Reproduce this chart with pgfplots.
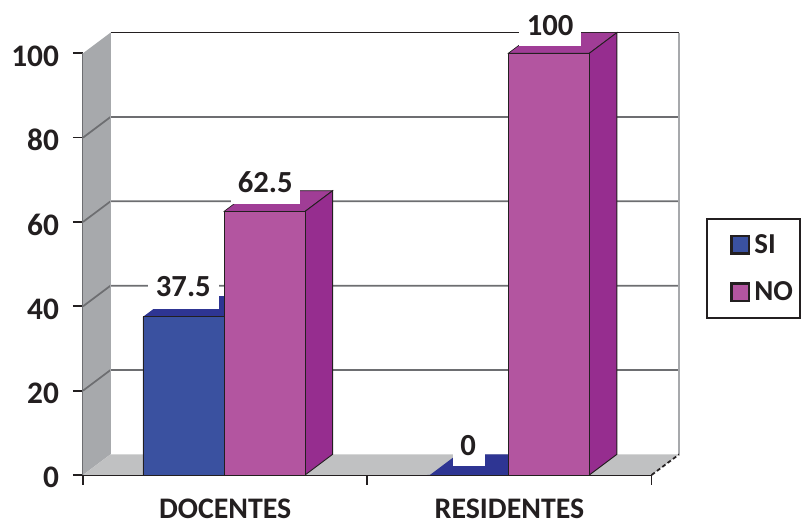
\documentclass[border=0pt]{standalone}
\usepackage{pgfplots}
\pgfplotsset{compat=1.18}
\usepackage{fontspec}
\setmainfont{Carlito}
\definecolor{ink}{HTML}{231F20}
\definecolor{wallgrey}{HTML}{A7A9AC}
\definecolor{floorgrey}{HTML}{C0C1C2}
\definecolor{gridgrey}{HTML}{6D6E71}
\definecolor{sifront}{HTML}{3A51A0}
\definecolor{sitop}{HTML}{2E3593}
\definecolor{nofront}{HTML}{B355A0}
\definecolor{notop}{HTML}{A03D96}
\definecolor{noside}{HTML}{962D8F}
\begin{document}
\begin{tikzpicture}
\path[use as bounding box] (0pt,0pt) rectangle (600.75pt,393pt);
% legend frame
\draw[ink,line width=1.1pt] (530.25pt,154.5pt) rectangle (600pt,228.75pt);
\begin{axis}[
  at={(62.25pt,36.75pt)}, anchor=south west,
  scale only axis, width=426.45pt, height=316.3pt,
  xmin=0, xmax=2, ymin=0, ymax=100,
  clip=false,
  axis x line*=bottom, axis y line*=left,
  x axis line style={ink,line width=1.5pt},
  y axis line style={gridgrey,line width=1.5pt},
  tick align=outside, major tick length=7.5pt,
  tick style={ink,line width=1.3pt},
  xtick={0,1,2}, xticklabels={},
  extra x ticks={0.5,1.5},
  extra x tick labels={DOCENTES,RESIDENTES},
  extra x tick style={tick style={draw=none},
    xticklabel style={inner sep=0pt,yshift=-10.5pt,font=\fontsize{22.4}{26}\selectfont\bfseries}},
  ytick={0,20,40,60,80,100},
  /pgf/number format/assume math mode=true,
  ticklabel style={font=\fontsize{23.5}{26}\selectfont\bfseries,color=ink},
  yticklabel style={xshift=-7pt,yshift=-2pt},
  legend style={at={(1.138,0.4897)}, anchor=west, draw=none, fill=none,
    font=\fontsize{21.7}{24}\selectfont\bfseries, text=ink,
    row sep=20pt, inner sep=0pt,
    nodes={inner sep=0pt, anchor=west},
    /tikz/column 1/.style={column sep=3pt}},
  legend cell align=left,
]
% walls and floor
\addplot[forget plot,fill=wallgrey,draw=none] coordinates {(0,0) (0.097,4.9) (0.097,104.9) (0,100)} --cycle;
\addplot[forget plot,fill=floorgrey,draw=none] coordinates {(0,0) (2,0) (2.097,4.9) (0.097,4.9)} --cycle;
% gridlines run up the side wall and across the back
\addplot[forget plot,gridgrey,line width=1.3pt] coordinates {(0,20) (0.097,24.9) (2.097,24.9)};
\addplot[forget plot,gridgrey,line width=1.3pt] coordinates {(0,40) (0.097,44.9) (2.097,44.9)};
\addplot[forget plot,gridgrey,line width=1.3pt] coordinates {(0,60) (0.097,64.9) (2.097,64.9)};
\addplot[forget plot,gridgrey,line width=1.3pt] coordinates {(0,80) (0.097,84.9) (2.097,84.9)};
\addplot[forget plot,ink,line width=1.3pt] coordinates {(0.097,104.9) (2.097,104.9)};
\addplot[forget plot,wallgrey,line width=1.2pt] coordinates {(0.097,4.9) (0.097,104.9)};
\addplot[forget plot,wallgrey,line width=1.5pt] coordinates {(2.097,4.9) (2.097,104.9)};
\addplot[forget plot,ink,line width=1.3pt,densely dashed] coordinates {(2,0) (2.097,4.9)};
% top faces of the SI bars
\addplot[forget plot,fill=sitop,draw=none] coordinates {(0.211,37.5) (0.496,37.5) (0.593,42.4) (0.308,42.4)} --cycle;
\addplot[forget plot,fill=sitop,draw=none] coordinates {(1.22,0) (1.496,0) (1.593,4.9) (1.317,4.9)} --cycle;
% top and side faces of the NO bars
\addplot[forget plot,fill=notop,draw=ink,line width=0.5pt] coordinates {(0.496,62.5) (0.781,62.5) (0.878,67.4) (0.593,67.4)} --cycle;
\addplot[forget plot,fill=noside,draw=ink,line width=0.7pt] coordinates {(0.781,0) (0.878,4.9) (0.878,67.4) (0.781,62.5)} --cycle;
\addplot[forget plot,fill=notop,draw=ink,line width=0.5pt] coordinates {(1.496,100) (1.781,100) (1.878,104.9) (1.593,104.9)} --cycle;
\addplot[forget plot,fill=noside,draw=ink,line width=0.7pt] coordinates {(1.781,0) (1.878,4.9) (1.878,104.9) (1.781,100)} --cycle;
% white patches behind the value labels
\fill[white] (axis cs:0.2286,39.36) rectangle (axis cs:0.4784,49.1);
\fill[white] (axis cs:0.5206,64.26) rectangle (axis cs:0.7633,73.5);
\fill[white] (axis cs:1.5336,101.7) rectangle (axis cs:1.7517,110.7);
\fill[white] (axis cs:1.3015,2.13) rectangle (axis cs:1.414,11.1);
% front faces
\addplot[ybar,bar width=0.285,bar shift=0pt,fill=sifront,draw=ink,line width=0.6pt,
  legend image code/.code={\draw[ink,line width=2pt,fill=sifront] (0pt,-6.5pt) rectangle (13pt,6.5pt);}]
  coordinates {(0.3535,37.5) (1.3535,0)};
\addlegendentry{SI}
\addplot[ybar,bar width=0.285,bar shift=0pt,fill=nofront,draw=ink,line width=0.6pt,
  legend image code/.code={\draw[ink,line width=2pt,fill=nofront] (0pt,-6.5pt) rectangle (13pt,6.5pt);}]
  coordinates {(0.6385,62.5) (1.6385,100)};
\addlegendentry{NO}
% value labels
\begin{scope}[every node/.style={font=\fontsize{23}{26}\selectfont\bfseries,text=ink,inner sep=0pt}]
\node at (axis cs:0.353,44.6) {37.5};
\node at (axis cs:0.641,69.4) {62.5};
\node at (axis cs:1.643,106.6) {100};
\node at (axis cs:1.355,7.0) {0};
\end{scope}
\end{axis}
\end{tikzpicture}
\end{document}
